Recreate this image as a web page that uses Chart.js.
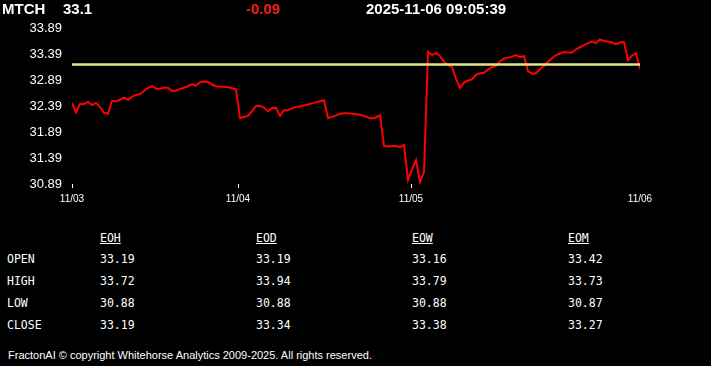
<!DOCTYPE html>
<html>
  <head>
    <title>MTCH</title>
    <script src="https://cdn.jsdelivr.net/npm/chart.js@4.4.1/dist/chart.umd.min.js"></script>
    <style>
        body { margin: 0; background: #000; width: 711px; height: 366px; overflow: hidden; position: relative; font-family: Arial, "Liberation Sans", sans-serif; color: #fff; }
        #chartBox { position: absolute; left: 0; top: 0; width: 711px; height: 215px; }
        .hdr { position: absolute; top: 0; font-weight: bold; font-size: 15px; line-height: 18px; }
        .cell { position: absolute; font-family: "DejaVu Sans Mono", monospace; font-size: 11.5px; line-height: 14px; color: #fff; }
        .cell.head { text-decoration: underline; }
        #footer { position: absolute; left: 8px; top: 348px; font-size: 11px; line-height: 14px; }
    </style>
  </head>
  <body>
    <div id="chartBox"><canvas id="priceChart" width="711" height="215"></canvas></div>
    <div class="hdr" style="left:2px">MTCH</div>
    <div class="hdr" id="last" style="left:63px"></div>
    <div class="hdr" id="chg" style="left:246px; color:#ff1a1a"></div>
    <div class="hdr" id="stamp" style="left:366px"></div>
    <div id="table"></div>
    <div id="footer">FractonAI © copyright Whitehorse Analytics 2009-2025. All rights reserved.</div>
    <script>
      // quote header
      var symbol = "MTCH";
      var lastPrice = 33.1;
      var change = -0.09;
      var stamp = "2025-11-06 09:05:39";
      var prevClose = 33.19;

      // intraday prices, one every few minutes from 11/03 to 11/06
      var prices = [
        32.45, 32.27, 32.43, 32.43, 32.47, 32.41, 32.45, 32.37, 32.26, 32.24,
        32.49, 32.48, 32.51, 32.55, 32.51, 32.57, 32.60, 32.62, 32.68, 32.74,
        32.77, 32.72, 32.72, 32.74, 32.74, 32.68, 32.69, 32.72, 32.74, 32.77,
        32.81, 32.78, 32.85, 32.86, 32.85, 32.80, 32.77, 32.76, 32.76, 32.75,
        32.73, 32.71, 32.16, 32.18, 32.20, 32.29, 32.39, 32.39, 32.36, 32.29,
        32.35, 32.35, 32.20, 32.31, 32.31, 32.35, 32.37, 32.38, 32.40, 32.42,
        32.44, 32.46, 32.48, 32.50, 32.16, 32.18, 32.21, 32.24, 32.25, 32.25,
        32.24, 32.23, 32.22, 32.20, 32.17, 32.15, 32.17, 32.21, 31.62, 31.61,
        31.62, 31.62, 31.60, 31.64, 30.97, 31.17, 31.35, 30.93, 31.12, 33.43,
        33.37, 33.41, 33.35, 33.24, 33.18, 33.14, 32.91, 32.74, 32.84, 32.88,
        32.90, 32.99, 33.02, 33.03, 33.09, 33.14, 33.16, 33.25, 33.30, 33.32,
        33.34, 33.37, 33.33, 33.35, 33.06, 33.01, 33.02, 33.10, 33.16, 33.24,
        33.31, 33.37, 33.40, 33.43, 33.42, 33.42, 33.48, 33.52, 33.56, 33.60,
        33.63, 33.60, 33.67, 33.64, 33.63, 33.61, 33.58, 33.61, 33.62, 33.27,
        33.36, 33.40, 33.10
      ];

      // where each day starts (index into prices) and its label
      var dayPos = [0, 41.5, 84.75, 142];
      var dayLabels = ["11/03", "11/04", "11/05", "11/06"];
      var yTicks = [30.89, 31.39, 31.89, 32.39, 32.89, 33.39, 33.89];

      // summary table
      var periods = ["EOH", "EOD", "EOW", "EOM"];
      var rowNames = ["OPEN", "HIGH", "LOW", "CLOSE"];
      var openVals = [33.19, 33.19, 33.16, 33.42];
      var highVals = [33.72, 33.94, 33.79, 33.73];
      var lowVals = [30.88, 30.88, 30.88, 30.87];
      var closeVals = [33.19, 33.34, 33.38, 33.27];

      document.getElementById("last").textContent = lastPrice;
      document.getElementById("chg").textContent = change.toFixed(2);
      document.getElementById("stamp").textContent = stamp;

      // build the table
      var colX = [100, 256, 412, 568];
      var rowY = [252, 274, 296, 318];
      var rows = [openVals, highVals, lowVals, closeVals];
      var html = "";
      periods.forEach(function (p, c) {
        html += '<div class="cell head" style="left:' + colX[c] + 'px;top:231px">' + p + '</div>';
      });
      rowNames.forEach(function (name, r) {
        html += '<div class="cell" style="left:7px;top:' + rowY[r] + 'px">' + name + '</div>';
        rows[r].forEach(function (v, c) {
          html += '<div class="cell" style="left:' + colX[c] + 'px;top:' + rowY[r] + 'px">' + v.toFixed(2) + '</div>';
        });
      });
      document.getElementById("table").innerHTML = html;

      // yellow previous close line
      var refLine = {
        id: "refLine",
        afterDatasetsDraw: function (chart) {
          var y = chart.scales.y.getPixelForValue(prevClose);
          var area = chart.chartArea;
          var ctx = chart.ctx;
          ctx.save();
          ctx.strokeStyle = "#e2e67e";
          ctx.lineWidth = 2.5;
          ctx.beginPath();
          ctx.moveTo(area.left, y);
          ctx.lineTo(area.right, y);
          ctx.stroke();
          ctx.restore();
        }
      };

      var ctx = document.getElementById("priceChart").getContext("2d");
      var priceChart = new Chart(ctx, {
        type: "line",
        data: {
          datasets: [{
            data: prices.map(function (p, i) { return { x: i, y: p }; }),
            borderColor: "#ff0000",
            borderWidth: 2,
            pointRadius: 0,
            tension: 0
          }]
        },
        options: {
          responsive: false,
          animation: false,
          layout: { padding: { top: 28, right: 71, left: 0, bottom: 0 } },
          plugins: { legend: { display: false }, tooltip: { enabled: false } },
          scales: {
            x: {
              type: "linear",
              min: 0,
              max: prices.length - 1,
              border: { display: false },
              grid: {
                drawOnChartArea: false,
                tickLength: 4,
                color: function (c) { return c.index < dayPos.length - 1 ? "#ffffff" : "rgba(0,0,0,0)"; }
              },
              afterBuildTicks: function (scale) {
                scale.ticks = dayPos.map(function (v) { return { value: v }; });
              },
              afterFit: function (scale) { scale.height = 31; },
              ticks: {
                autoSkip: false,
                maxRotation: 0,
                padding: 5,
                color: "#ffffff",
                font: { family: "Arial", size: 10 },
                callback: function (v) { return dayLabels[dayPos.indexOf(v)]; }
              }
            },
            y: {
              min: yTicks[0],
              max: yTicks[yTicks.length - 1],
              border: { display: false },
              grid: { display: false, drawTicks: false },
              afterBuildTicks: function (scale) {
                scale.ticks = yTicks.map(function (v) { return { value: v }; });
              },
              afterFit: function (scale) { scale.width = 72; },
              ticks: {
                padding: 10,
                color: "#ffffff",
                font: { family: "Arial", size: 13 },
                callback: function (v) { return v.toFixed(2); }
              }
            }
          }
        },
        plugins: [refLine]
      });
    </script>
  </body>
</html>
